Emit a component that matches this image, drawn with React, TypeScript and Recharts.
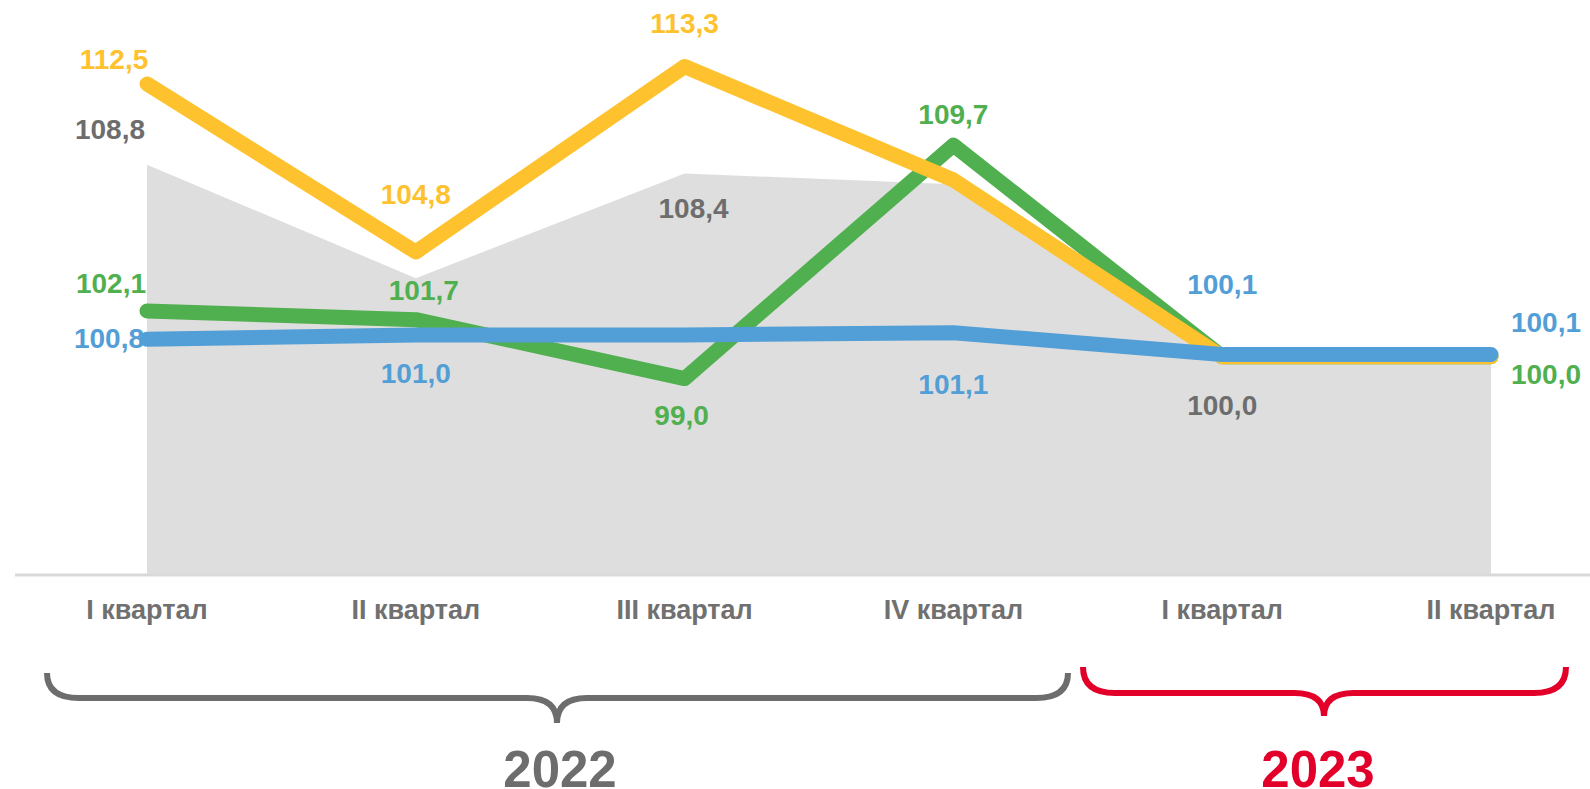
import { ComposedChart, Area, Line, XAxis, YAxis, LabelList } from 'recharts';

const quarters = ['I квартал', 'II квартал', 'III квартал', 'IV квартал', 'I квартал', 'II квартал'];
const years = ['2022', '2023'];

const grayValues = [108.8, 103.6, 108.4, 107.9, 100.0, 100.0];
const yellowValues = [112.5, 104.8, 113.3, 108.1, 100.0, 100.0];
const greenValues = [102.1, 101.7, 99.0, 109.7, 100.0, 100.0];
const blueValues = [100.8, 101.0, 101.0, 101.1, 100.1, 100.1];

// label placement per point (dx, dy from the point), null = no label
const grayLabelAt: ([number, number] | null)[] = [[-37, -35], null, [9, 35], null, [0, 49], null];
const yellowLabelAt: ([number, number] | null)[] = [[-33, -24], [0, -57], [0, -43], null, null, null];
const greenLabelAt: ([number, number] | null)[] = [[-36, -27], [8, -29], [-3, 37], [0, -31], null, [55, 18]];
const blueLabelAt: ([number, number] | null)[] = [[-38, -1], [0, 39], null, [0, 52], [0, -70], [55, -32]];

const COLORS = {
  gray: '#dedede',
  grayText: '#6d6d6d',
  yellow: '#fec22f',
  green: '#50b04f',
  blue: '#529ed6',
  red: '#e2002b',
  axis: '#d9d9d9',
};

const FONT = '"Liberation Sans", Arial, sans-serif';

const data = quarters.map((q, i) => ({
  idx: i,
  q,
  gray: grayValues[i],
  yellow: yellowValues[i],
  green: greenValues[i],
  blue: blueValues[i],
}));

const fmt = (v: number) => v.toFixed(1).replace('.', ',');

function makeLabel(place: ([number, number] | null)[], color: string) {
  return (props: any) => {
    const { x, y, value, index } = props;
    const p = place[index];
    if (!p) return null;
    return (
      <text
        x={Number(x) + p[0]}
        y={Number(y) + p[1]}
        textAnchor="middle"
        dominantBaseline="central"
        fill={color}
        fontFamily={FONT}
        fontWeight="bold"
        fontSize={28}
      >
        {fmt(Number(value))}
      </text>
    );
  };
}

function QuarterTick({ x, payload }: any) {
  return (
    <text x={x} y={610} textAnchor="middle" dominantBaseline="central" fill="#707070"
      fontFamily={FONT} fontWeight="bold" fontSize={27}>
      {quarters[payload.value]}
    </text>
  );
}

function bracePath(x1: number, x2: number, xm: number, yTop: number, yLine: number, yTip: number) {
  const r = 32;
  const m = 30;
  return `M ${x1} ${yTop} Q ${x1} ${yLine} ${x1 + r} ${yLine} L ${xm - m} ${yLine} Q ${xm} ${yLine} ${xm} ${yTip} ` +
    `Q ${xm} ${yLine} ${xm + m} ${yLine} L ${x2 - r} ${yLine} Q ${x2} ${yLine} ${x2} ${yTop}`;
}

export default function App() {
  return (
    <div style={{ position: 'absolute', left: 0, top: 0, width: 1590, height: 789, background: '#fff' }}>
      <ComposedChart width={1590} height={789} data={data} margin={{ top: 1, right: 0, left: 15, bottom: 0 }}>
        <XAxis
          dataKey="idx"
          type="category"
          scale="point"
          padding={{ left: 132, right: 99 }}
          height={214}
          axisLine={{ stroke: COLORS.axis, strokeWidth: 3 }}
          tickLine={false}
          tick={<QuarterTick />}
          interval={0}
        />
        <YAxis hide domain={[90, 116.3]} />
        <Area dataKey="gray" type="linear" fill={COLORS.gray} fillOpacity={1} stroke="none" isAnimationActive={false} dot={false} activeDot={false}>
          <LabelList dataKey="gray" content={makeLabel(grayLabelAt, COLORS.grayText)} />
        </Area>
        <Line dataKey="green" type="linear" stroke={COLORS.green} strokeWidth={15} strokeLinecap="round" strokeLinejoin="round" dot={false} activeDot={false} isAnimationActive={false}>
          <LabelList dataKey="green" content={makeLabel(greenLabelAt, COLORS.green)} />
        </Line>
        <Line dataKey="yellow" type="linear" stroke={COLORS.yellow} strokeWidth={15} strokeLinecap="round" strokeLinejoin="round" dot={false} activeDot={false} isAnimationActive={false}>
          <LabelList dataKey="yellow" content={makeLabel(yellowLabelAt, COLORS.yellow)} />
        </Line>
        <Line dataKey="blue" type="linear" stroke={COLORS.blue} strokeWidth={15} strokeLinecap="round" strokeLinejoin="round" dot={false} activeDot={false} isAnimationActive={false}>
          <LabelList dataKey="blue" content={makeLabel(blueLabelAt, COLORS.blue)} />
        </Line>
      </ComposedChart>
      <svg width={1590} height={789} style={{ position: 'absolute', left: 0, top: 0, pointerEvents: 'none' }}>
        <path d={bracePath(47, 1068, 557, 673, 698, 723)} fill="none" stroke={COLORS.grayText} strokeWidth={6} />
        <path d={bracePath(1083, 1566, 1324, 667, 693, 716)} fill="none" stroke={COLORS.red} strokeWidth={6} />
        <text x={560} y={787} textAnchor="middle" fill={COLORS.grayText} fontFamily={FONT} fontWeight="bold" fontSize={51}>{years[0]}</text>
        <text x={1318} y={787} textAnchor="middle" fill={COLORS.red} fontFamily={FONT} fontWeight="bold" fontSize={51}>{years[1]}</text>
      </svg>
    </div>
  );
}
